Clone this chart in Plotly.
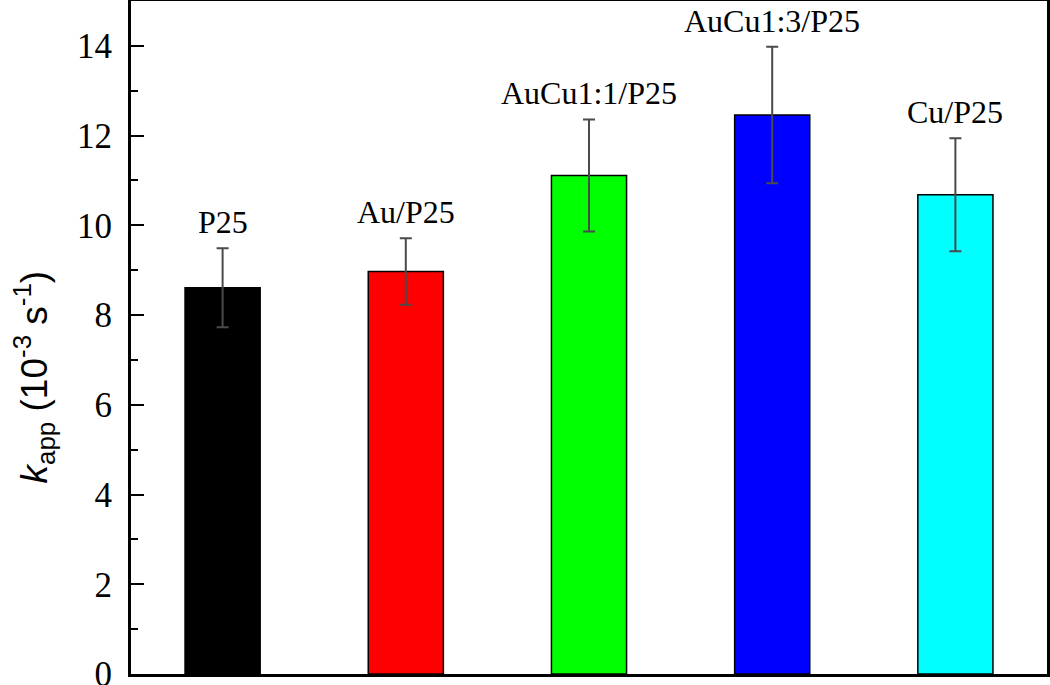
import plotly.graph_objects as go

categories = ["P25", "Au/P25", "AuCu1:1/P25", "AuCu1:3/P25", "Cu/P25"]
k_app = [8.61, 8.97, 11.11, 12.46, 10.68]
k_err = [0.88, 0.74, 1.25, 1.52, 1.26]
colors = ["#000000", "#ff0000", "#00ff00", "#0000ff", "#00ffff"]
y_ticks = [0, 2, 4, 6, 8, 10, 12, 14]

xpos = list(range(len(categories)))

fig = go.Figure()
fig.add_trace(go.Bar(
    x=xpos, y=k_app, width=0.41,
    marker=dict(color=colors, line=dict(color="#000000", width=1.5)),
    error_y=dict(type="data", array=k_err, visible=True,
                 color="#4a4a4a", thickness=2, width=6),
    showlegend=False,
))

for xi, name, v, e in zip(xpos, categories, k_app, k_err):
    fig.add_annotation(
        x=xi, y=v + e, xref="x", yref="y", text=name, showarrow=False,
        yanchor="bottom", yshift=6,
        font=dict(family="Liberation Serif", size=32, color="#000000"),
    )

fig.add_annotation(
    x=-0.106, y=0.442, xref="paper", yref="paper",
    xanchor="center", yanchor="middle", textangle=-90, showarrow=False,
    text="<i>k</i><sub>app</sub> (10<sup>-3</sup> s<sup>-1</sup>)",
    font=dict(family="Liberation Sans", size=37, color="#000000"),
)

fig.update_layout(
    width=1050, height=685,
    margin=dict(l=131, r=3, t=1, b=11, autoexpand=False),
    plot_bgcolor="#ffffff", paper_bgcolor="#ffffff",
    xaxis=dict(range=[-0.5, 4.5], showticklabels=False, ticks="",
               showgrid=False, zeroline=False, showline=True, automargin=False,
               linecolor="#000000", linewidth=3, mirror=True),
    yaxis=dict(range=[0, 15], tickvals=y_ticks, ticks="inside", ticklen=13,
               tickwidth=2, tickcolor="#000000", automargin=False,
               minor=dict(dtick=1, tick0=0, ticks="inside", ticklen=7,
                          tickwidth=2, tickcolor="#000000", showgrid=False),
               showgrid=False, zeroline=False, showline=True,
               linecolor="#000000", linewidth=3, mirror=True,
               ticklabeloverflow="allow", ticklabelstandoff=9,
               tickfont=dict(family="Liberation Serif", size=35, color="#000000")),
)

fig.write_html("out.html", config={"displayModeBar": False},
               post_script="document.body.style.margin='0';document.body.style.overflow='hidden';")
